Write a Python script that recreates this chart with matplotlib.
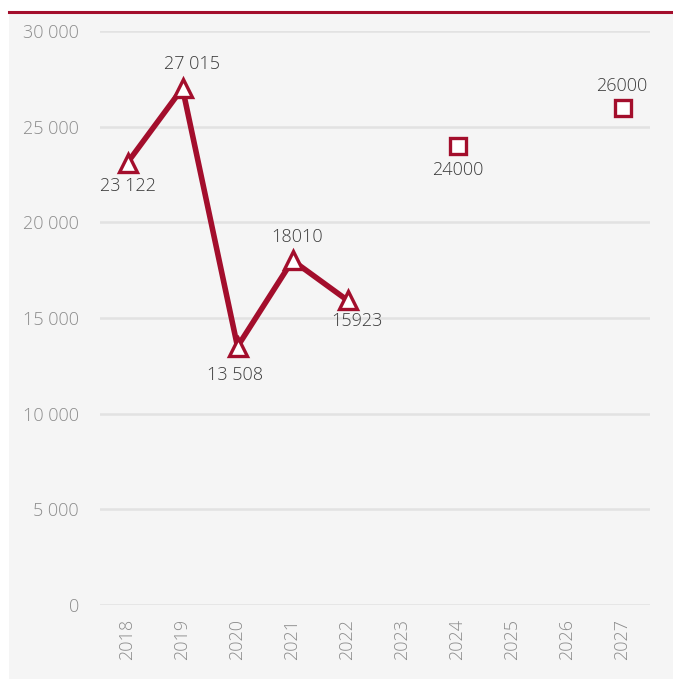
import matplotlib.pyplot as plt
from matplotlib.patches import Rectangle
from matplotlib.lines import Line2D

years = ['2018', '2019', '2020', '2021', '2022', '2023', '2024', '2025', '2026', '2027']
actual_idx = [0, 1, 2, 3, 4]
actual_vals = [23122, 27015, 13508, 18010, 15923]
actual_labels = ['23 122', '27 015', '13 508', '18010', '15923']
target_idx = [6, 9]
target_vals = [24000, 26000]
target_labels = ['24000', '26000']
yticks = [0, 5000, 10000, 15000, 20000, 25000, 30000]
ytick_labels = ['0', '5 000', '10 000', '15 000', '20 000', '25 000', '30 000']

RED = '#a30e2c'
BG = '#f5f5f5'
PX = 0.72  # points per pixel at dpi 100

plt.rcParams['font.family'] = ['Open Sans', 'DejaVu Sans']

fig = plt.figure(figsize=(6.73, 6.79), dpi=100)
fig.patch.set_facecolor('white')
fig.patches.append(Rectangle((9 / 673, 0), 1 - 9 / 673, 1 - 11 / 679,
                             transform=fig.transFigure, facecolor=BG,
                             edgecolor='none', zorder=-5))
fig.lines.append(Line2D([9 / 673, 1], [1 - 11.5 / 679, 1 - 11.5 / 679],
                        transform=fig.transFigure, color=RED, lw=2.2))

ax = fig.add_axes([100 / 673, 1 - 605 / 679, 550 / 673, 574 / 679])
ax.patch.set_alpha(0)
for s in ax.spines.values():
    s.set_visible(False)

ax.set_xlim(-0.5, len(years) - 0.5)
ax.set_ylim(0, 30000)
ax.set_yticks(yticks)
ax.set_yticklabels(ytick_labels, fontweight='light')
ax.set_xticks(range(len(years)))
ax.set_xticklabels(years, rotation=90, fontweight='light')
ax.tick_params(length=0, labelsize=13, labelcolor='#8c8c8c')
ax.tick_params(axis='y', pad=21 * PX)
ax.tick_params(axis='x', pad=14 * PX)
ax.grid(axis='y', color='#e2e2e2', lw=1.8)
ax.set_axisbelow(True)

ax.plot(actual_idx, actual_vals, color=RED, lw=4.0, marker='^', ms=13,
        mfc='white', mec=RED, mew=2.4, zorder=3)
ax.plot(target_idx, target_vals, ls='none', marker='s', ms=12,
        mfc='white', mec=RED, mew=2.4, zorder=3)

offsets = [(0, -23), (9, 24), (-2, -28), (5, 23), (9, -21)]
for i, v, lab, off in zip(actual_idx, actual_vals, actual_labels, offsets):
    ax.annotate(lab, (i, v), xytext=(off[0] * PX, off[1] * PX),
                textcoords='offset points', ha='center', va='center',
                fontsize=13, color='#3c3c3c', fontweight='light')
t_offsets = [(0, -24), (-1, 22)]
for i, v, lab, off in zip(target_idx, target_vals, target_labels, t_offsets):
    ax.annotate(lab, (i, v), xytext=(off[0] * PX, off[1] * PX),
                textcoords='offset points', ha='center', va='center',
                fontsize=13, color='#3c3c3c', fontweight='light')

fig.savefig('out.png', dpi=100)
